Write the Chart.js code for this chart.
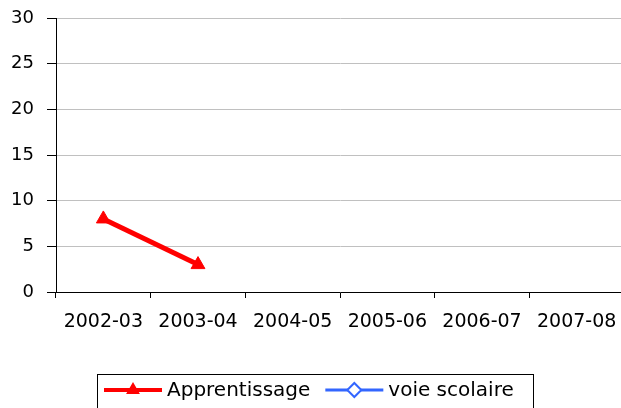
<!DOCTYPE html>
<html>
<head>
<meta charset="utf-8">
<script src="https://cdn.jsdelivr.net/npm/chart.js@4/dist/chart.umd.min.js"></script>
<style>
  html, body { margin: 0; padding: 0; background: #fff; overflow: hidden; }
  #wrap { width: 640px; height: 408px; }
</style>
</head>
<body>
<div id="wrap"><canvas id="chart" width="640" height="408"></canvas></div>
<script>
const years = ["2002-03", "2003-04", "2004-05", "2005-06", "2006-07", "2007-08"];
const apprentissage = [8, 3, null, null, null, null];
const voieScolaire = [null, null, null, null, null, null];

const FONT = "'DejaVu Sans', Verdana, sans-serif";

// legend drawn in a framed box under the axis: line sample + marker + label
const boxLegend = {
  id: "boxLegend",
  afterDraw(chart) {
    const ctx = chart.ctx;
    const y = 390;
    ctx.save();
    ctx.strokeStyle = "#000";
    ctx.lineWidth = 1;
    ctx.strokeRect(97.5, 374.5, 436, 60);
    let x = 104;
    chart.data.datasets.forEach((ds) => {
      ctx.strokeStyle = ds.borderColor;
      ctx.lineWidth = ds.legendLineWidth;
      ctx.beginPath();
      ctx.moveTo(x, y);
      ctx.lineTo(x + 58, y);
      ctx.stroke();
      ctx.fillStyle = ds.pointBackgroundColor;
      ctx.lineWidth = 2;
      Chart.helpers.drawPoint(ctx, {
        pointStyle: ds.pointStyle,
        radius: ds.legendRadius,
        rotation: 0,
        borderWidth: 2,
      }, x + 29, y);
      ctx.font = "20px " + FONT;
      ctx.textBaseline = "middle";
      ctx.fillStyle = "#000";
      ctx.fillText(ds.label, x + 63, y + 1);
      x += 63 + ctx.measureText(ds.label).width + 15;
    });
    ctx.restore();
  },
};

new Chart(document.getElementById("chart"), {
  type: "line",
  data: {
    labels: years,
    datasets: [
      {
        label: "Apprentissage",
        data: apprentissage,
        borderColor: "#ff0000",
        backgroundColor: "#ff0000",
        pointBackgroundColor: "#ff0000",
        borderWidth: 5,
        pointStyle: "triangle",
        pointRadius: 8,
        pointBorderWidth: 1,
        legendLineWidth: 4,
        legendRadius: 6,
      },
      {
        label: "voie scolaire",
        data: voieScolaire,
        borderColor: "#3366ff",
        backgroundColor: "#ffffff",
        pointBackgroundColor: "#ffffff",
        borderWidth: 3,
        pointStyle: "rectRot",
        pointRadius: 6,
        pointBorderWidth: 2,
        legendLineWidth: 3,
        legendRadius: 7,
      },
    ],
  },
  options: {
    responsive: false,
    animation: false,
    layout: { padding: { top: 18, left: 0, right: 16, bottom: 0 } },
    plugins: { legend: { display: false }, tooltip: { enabled: false } },
    scales: {
      x: {
        offset: true,
        afterFit: (s) => { s.height = 116; },
        grid: { offset: true, drawOnChartArea: false, tickLength: 6, color: "#000", tickColor: "#000" },
        border: { color: "#000", width: 1 },
        ticks: { color: "#000", font: { family: FONT, size: 19 }, padding: 13, maxRotation: 0 },
      },
      y: {
        min: 0,
        max: 30,
        afterFit: (s) => {
          s.width = 56;
          s.paddingTop = 0;
          s.paddingBottom = 0;
        },
        grid: { color: "#c0c0c0", tickColor: "#000", tickLength: 9 },
        border: { color: "#000", width: 1 },
        ticks: { stepSize: 5, color: "#000", font: { family: FONT, size: 18 }, padding: 13 },
      },
    },
  },
  plugins: [boxLegend],
});
</script>
</body>
</html>
